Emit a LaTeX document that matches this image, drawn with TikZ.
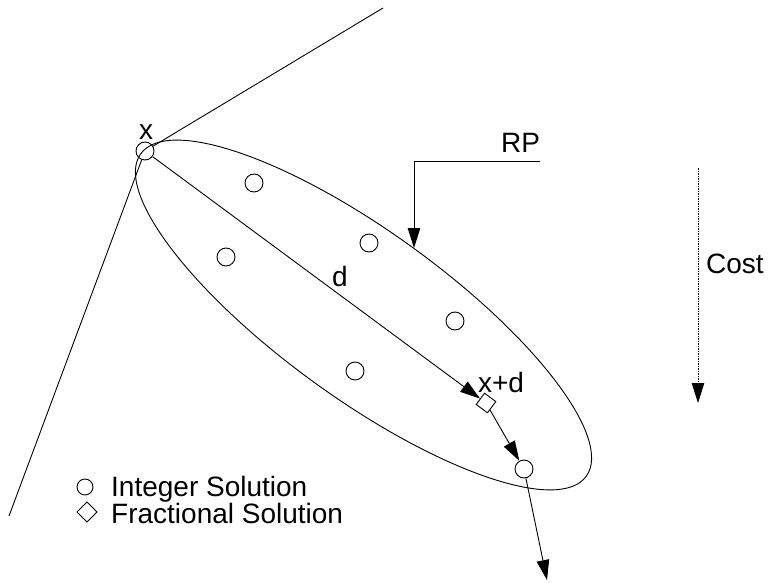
\documentclass[tikz,border=0pt]{standalone}
\usepackage{fontspec}
\setmainfont{Liberation Sans}
\usetikzlibrary{arrows.meta}
\tikzset{
  ln/.style={line width=0.9pt, black},
  arr/.style={ln, -{Triangle[length=20pt,width=12.5pt]}},
  intc/.style={ln, draw, circle, minimum size=18pt, inner sep=0pt},
  fracd/.style={ln, draw, rectangle, minimum size=14pt, inner sep=0pt, rotate=-36.5},
  lbl/.style={font=\fontsize{28}{34}\selectfont, inner sep=0pt},
}
\begin{document}
\begin{tikzpicture}[x=1pt,y=-1pt]
\useasboundingbox (0,0) rectangle (768,583);
% region RP boundary
\draw[ln, rotate around={-35.9:(363.5,315)}] (363.5,315) ellipse [x radius=275, y radius=83.5];
% nodes
\node[intc] (X) at (145,151) {};
\node[intc] (I1) at (254,183) {};
\node[intc] (I2) at (226,257) {};
\node[intc] (I3) at (369,243) {};
\node[intc] (I4) at (455,321) {};
\node[intc] (I5) at (355,371) {};
\node[intc] (I6) at (524,469) {};
\node[fracd] (D) at (486,403) {};
% cone lines
\coordinate (ctop) at (383,8);
\coordinate (cbot) at (9,516);
\draw[ln] (X) -- (ctop);
\draw[ln] (X) -- (cbot);
% direction arrows
\draw[arr] (X) -- (D);
\draw[arr] (D) -- (I6);
\coordinate (dend) at (547,580);
\draw[arr] (I6) -- (dend);
% RP pointer
\coordinate (rpA) at (540,161);
\coordinate (rpB) at (414,161);
\coordinate (rpC) at (414,248);
\draw[arr] (rpA) -- (rpB) -- (rpC);
% cost arrow
\coordinate (cA) at (698,168);
\coordinate (cB) at (698,403);
\draw[arr, dash pattern=on 1.5pt off 1pt] (cA) -- (cB);
% labels
\node[lbl, anchor=base] (lx) at (146,139.5) {x};
\node[lbl, anchor=base west] (lrp) at (501,153) {RP};
\node[lbl, anchor=base] (ld) at (340,286) {d};
\node[lbl, anchor=base] (lxd) at (501,392) {x+d};
\node[lbl, anchor=base west] (lcost) at (706,273) {Cost};
% legend
\node[ln, draw, circle, minimum size=16pt, inner sep=0pt] (legc) at (85,487) {};
\node[ln, draw, rectangle, minimum size=14pt, inner sep=0pt, rotate=45] (legd) at (87,512) {};
\node[lbl, anchor=base west] (legt1) at (111,496) {Integer Solution};
\node[lbl, anchor=base west] (legt2) at (111,523) {Fractional Solution};
\end{tikzpicture}
\end{document}
